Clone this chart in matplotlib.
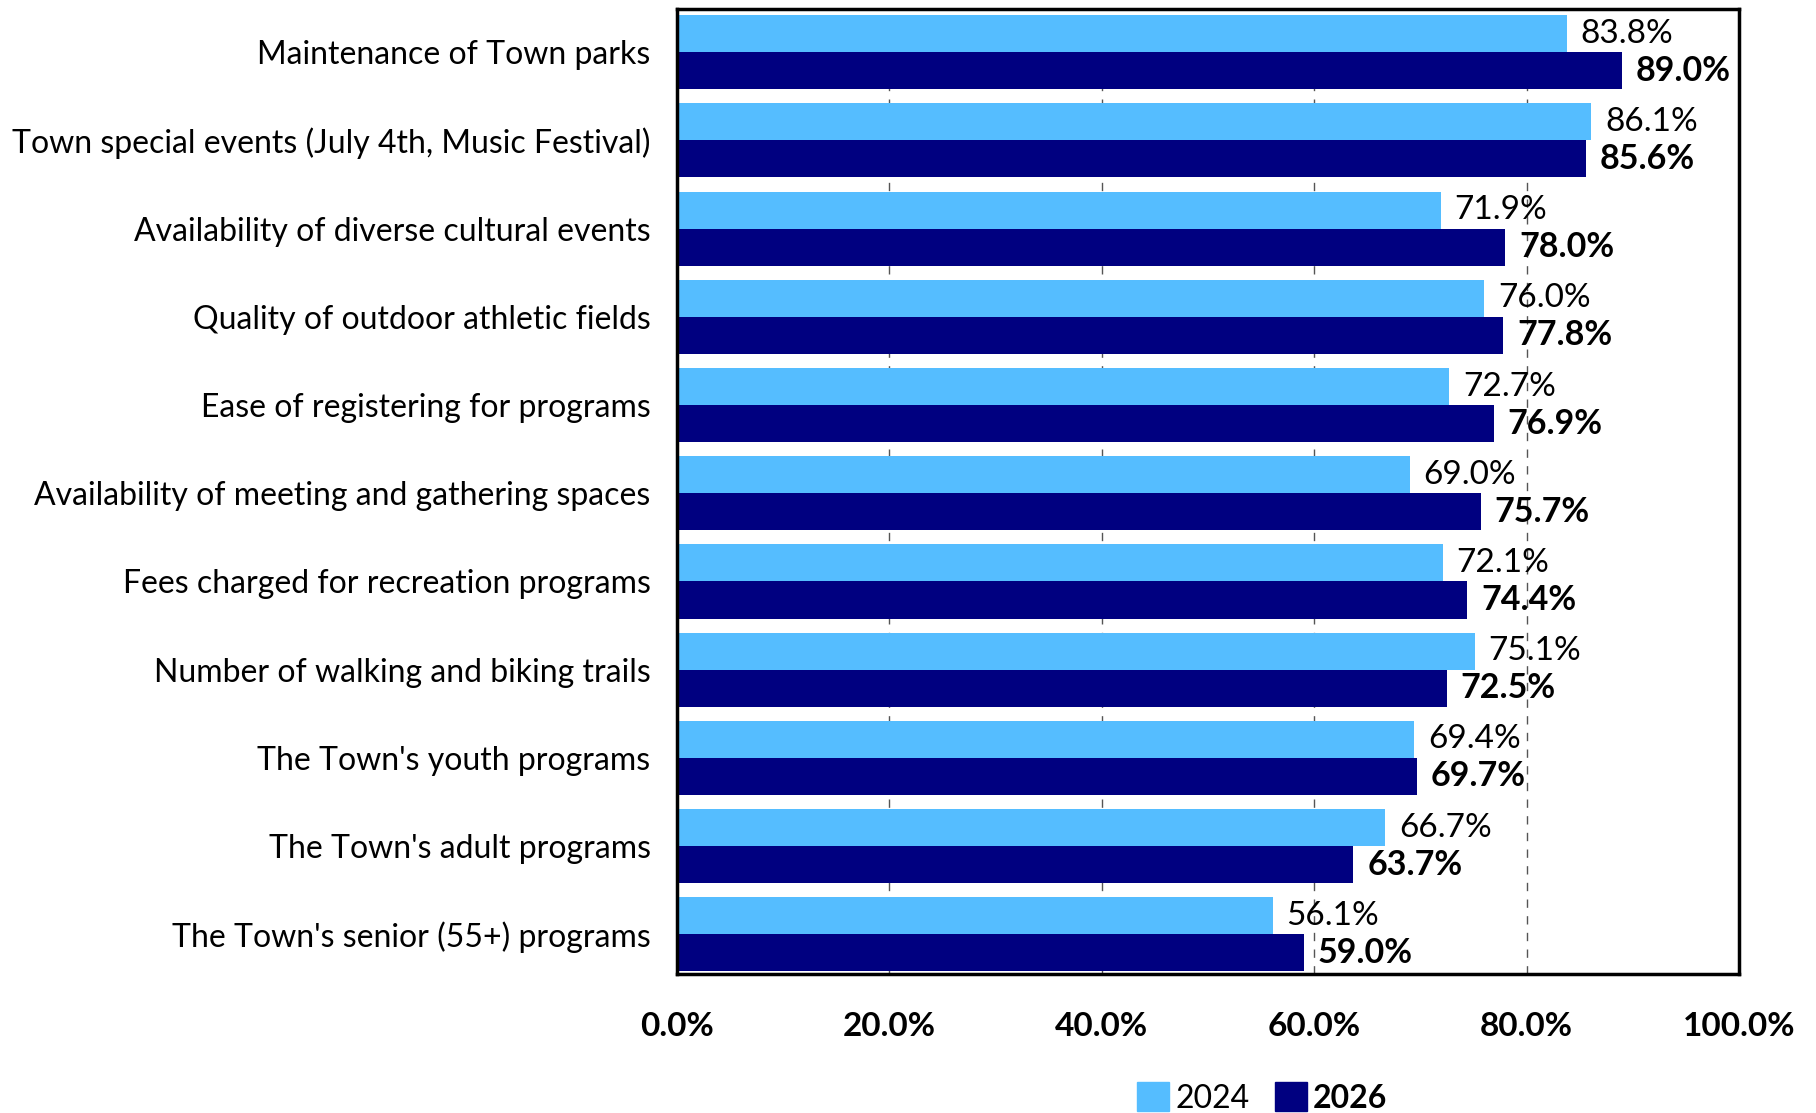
import matplotlib.pyplot as plt
import numpy as np
from matplotlib.patches import Patch

plt.rcParams['font.family'] = ['Lato', 'DejaVu Sans']

categorias = ["Maintenance of Town parks",
              "Town special events (July 4th, Music Festival)",
              "Availability of diverse cultural events",
              "Quality of outdoor athletic fields",
              "Ease of registering for programs",
              "Availability of meeting and gathering spaces",
              "Fees charged for recreation programs",
              "Number of walking and biking trails",
              "The Town's youth programs",
              "The Town's adult programs",
              "The Town's senior (55+) programs"]
valores_2024 = [83.8, 86.1, 71.9, 76.0, 72.7, 69.0, 72.1, 75.1, 69.4, 66.7, 56.1]
valores_2026 = [89.0, 85.6, 78.0, 77.8, 76.9, 75.7, 74.4, 72.5, 69.7, 63.7, 59.0]
ticks_x = [0, 20, 40, 60, 80, 100]

cor_2024 = '#55BDFF'
cor_2026 = '#000080'

fig = plt.figure(figsize=(18.16, 11.13), dpi=100)
ax = fig.add_axes([677 / 1816, 1 - 974 / 1113, (1739 - 677) / 1816, (974 - 9) / 1113])

y = np.arange(len(categorias))
h = 0.42
ax.barh(y - h / 2, valores_2024, height=h, color=cor_2024, zorder=2)
ax.barh(y + h / 2, valores_2026, height=h, color=cor_2026, zorder=2)

for i in range(len(categorias)):
    ax.text(valores_2024[i] + 1.3, y[i] - h / 2, f'{valores_2024[i]:.1f}%',
            va='center', ha='left', fontsize=24, zorder=3)
    ax.text(valores_2026[i] + 1.3, y[i] + h / 2, f'{valores_2026[i]:.1f}%',
            va='center', ha='left', fontsize=24.5, fontweight='bold', zorder=3)

ax.set_xlim(0, 100)
ax.set_ylim(10.45, -0.49)
ax.set_yticks(y)
ax.set_yticklabels(categorias, fontsize=23)
ax.set_xticks(ticks_x)
ax.set_xticklabels([f'{t:.1f}%' for t in ticks_x], fontsize=24, fontweight='bold')
ax.tick_params(axis='y', length=0, pad=19)
ax.tick_params(axis='x', length=0, pad=27)
ax.grid(axis='x', color='#555555', linestyle=(0, (6, 6)), linewidth=1, zorder=1)
for s in ax.spines.values():
    s.set_linewidth(2.5)
    s.set_color('black')

leg = fig.legend(handles=[Patch(color=cor_2024, label='2024'), Patch(color=cor_2026, label='2026')],
                 loc='center', bbox_to_anchor=(1262 / 1816, 1 - 1098 / 1113), ncol=2,
                 frameon=False, fontsize=23, handlelength=1.0, handleheight=1.0,
                 handletextpad=0.2, columnspacing=0.8)
leg.get_texts()[1].set_fontweight('bold')

fig.savefig('out.png', dpi=100)
